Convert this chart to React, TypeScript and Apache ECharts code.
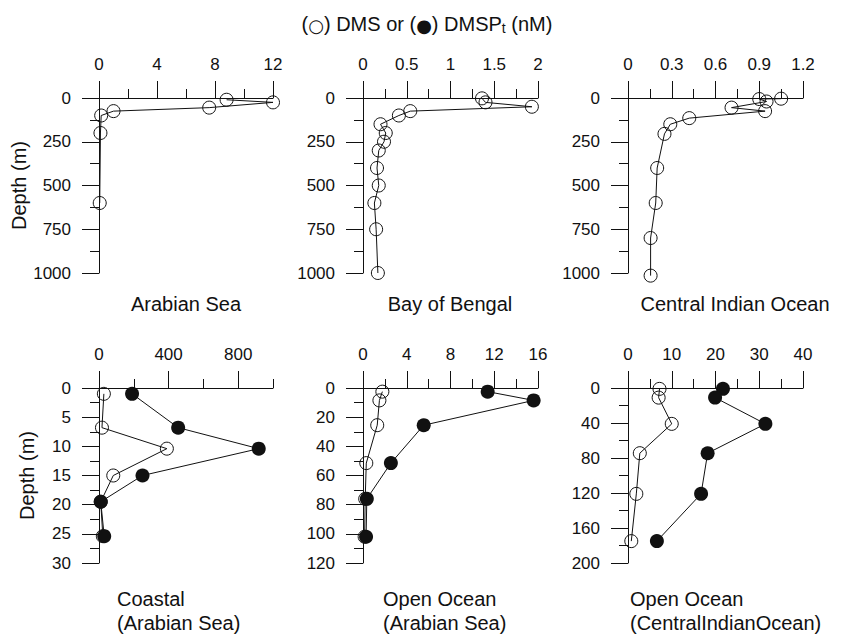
import React, { useEffect, useRef } from 'react';
import * as echarts from 'echarts';

const FONT = '"Liberation Sans", Arial, Helvetica, sans-serif';
const INK = '#111';

// Panel titles
const panelTitlesTop = ['Arabian Sea', 'Bay of Bengal', 'Central Indian Ocean'];
const panelTitlesBottom = [
  ['Coastal', '(Arabian Sea)'],
  ['Open Ocean', '(Arabian Sea)'],
  ['Open Ocean', '(CentralIndianOcean)'],
];

// Axis scales per panel
const xMax = [12, 2, 1.2, 1000, 16, 40];
const xInterval = [4, 0.5, 0.3, 400, 4, 10];
const yMax = [1000, 1000, 1000, 30, 120, 200];
const yInterval = [250, 250, 250, 5, 20, 40];
const coastalMajorTicks = [0, 400, 800];
const coastalMinorTicks = [200, 600, 1000];

// Arabian Sea (DMS)
const arabianSeaDepth = [10, 25, 55, 75, 100, 200, 600];
const arabianSeaDMS = [8.8, 12.0, 7.6, 1.0, 0.15, 0.1, 0.05];

// Bay of Bengal (DMS)
const bengalDepth = [2, 25, 50, 75, 100, 150, 200, 250, 300, 400, 500, 600, 750, 1000];
const bengalDMS = [1.36, 1.4, 1.93, 0.54, 0.41, 0.2, 0.26, 0.24, 0.18, 0.16, 0.18, 0.13, 0.15, 0.17];

// Central Indian Ocean (DMS)
const centralDepth = [4, 6, 20, 55, 75, 115, 150, 205, 400, 600, 800, 1015];
const centralDMS = [1.05, 0.9, 0.95, 0.71, 0.94, 0.42, 0.29, 0.25, 0.2, 0.19, 0.155, 0.155];

// Coastal (Arabian Sea)
const coastalDepth = [1, 6.8, 10.4, 15, 19.5, 25.4];
const coastalDMS = [28, 17, 390, 82, 10, 22];
const coastalDMSP = [190, 455, 918, 250, 10, 30];

// Open Ocean (Arabian Sea)
const openArabianDepth = [2.5, 8.5, 25.5, 51.5, 76, 102];
const openArabianDMS = [1.77, 1.5, 1.3, 0.3, 0.2, 0.15];
const openArabianDMSP = [11.4, 15.6, 5.55, 2.55, 0.35, 0.28];

// Open Ocean (Central Indian Ocean)
const openCentralDepth = [1, 11, 41, 74.5, 121, 175];
const openCentralDMS = [7.2, 7.0, 10, 2.7, 1.9, 0.75];
const openCentralDMSP = [21.7, 19.9, 31.4, 18.2, 16.7, 6.6];

const gridRects = [
  { left: 99, top: 98, width: 174, height: 175 },
  { left: 363, top: 98, width: 175, height: 175 },
  { left: 628, top: 98, width: 175, height: 175 },
  { left: 99, top: 388, width: 174, height: 175 },
  { left: 363, top: 388, width: 175, height: 175 },
  { left: 628, top: 388, width: 175, height: 175 },
];

const zip = (xs: number[], ys: number[]) => xs.map((x, i) => [x, ys[i]]);
const plain = (v: number) => String(Math.round(v * 1000) / 1000);

function buildOption() {
  const grid = gridRects.map((r) => ({ ...r, containLabel: false, outerBoundsMode: 'none' }));

  const tickStyle = { color: INK, width: 1 };
  const labelStyle = { fontSize: 17, color: INK, fontFamily: FONT, formatter: plain };

  const xAxis: any[] = xMax.map((max, i) => {
    const ax: any = {
      type: 'value',
      gridIndex: i,
      position: 'top',
      min: 0,
      max,
      interval: xInterval[i],
      axisLine: { show: true, onZero: false, lineStyle: tickStyle },
      axisTick: { show: true, length: 17, lineStyle: tickStyle },
      minorTick: { show: true, splitNumber: 2, length: 9, lineStyle: tickStyle },
      axisLabel: { ...labelStyle, margin: 25 },
      splitLine: { show: false },
      minorSplitLine: { show: false },
    };
    if (i === 3) {
      ax.axisTick = { show: true, length: 17, lineStyle: tickStyle, customValues: coastalMajorTicks };
      ax.axisLabel = { ...labelStyle, margin: 25, customValues: coastalMajorTicks };
      ax.minorTick = { show: false };
    }
    return ax;
  });
  // extra axis carrying the short ticks of the coastal panel
  xAxis.push({
    type: 'value',
    gridIndex: 3,
    position: 'top',
    min: 0,
    max: 1000,
    interval: 200,
    axisLine: { show: false },
    axisTick: { show: true, length: 9, lineStyle: tickStyle, customValues: coastalMinorTicks },
    axisLabel: { show: false },
    splitLine: { show: false },
  });

  const yAxis = yMax.map((max, i) => ({
    type: 'value',
    gridIndex: i,
    position: 'left',
    inverse: true,
    min: 0,
    max,
    interval: yInterval[i],
    name: i === 0 || i === 3 ? 'Depth (m)' : '',
    nameLocation: 'middle',
    nameRotate: 90,
    nameGap: 62,
    nameTextStyle: { fontSize: 20, color: INK, fontFamily: FONT },
    axisLine: { show: true, onZero: false, lineStyle: tickStyle },
    axisTick: { show: true, length: 17, lineStyle: tickStyle },
    minorTick: { show: true, splitNumber: 2, length: 9, lineStyle: tickStyle },
    axisLabel: { ...labelStyle, margin: 28 },
    splitLine: { show: false },
    minorSplitLine: { show: false },
  }));

  const openSeries = (idx: number, xs: number[], ys: number[]) => ({
    type: 'line',
    xAxisIndex: idx,
    yAxisIndex: idx,
    data: zip(xs, ys),
    symbol: 'circle',
    symbolSize: 13,
    clip: false,
    lineStyle: { color: INK, width: 1 },
    itemStyle: { color: 'rgba(255,255,255,0)', borderColor: INK, borderWidth: 1 },
    emphasis: { disabled: true },
    z: 3,
  });
  const filledSeries = (idx: number, xs: number[], ys: number[]) => ({
    type: 'line',
    xAxisIndex: idx,
    yAxisIndex: idx,
    data: zip(xs, ys),
    symbol: 'circle',
    symbolSize: 14,
    clip: false,
    lineStyle: { color: INK, width: 1 },
    itemStyle: { color: INK, borderColor: INK, borderWidth: 0 },
    emphasis: { disabled: true },
    z: 4,
  });

  const series = [
    openSeries(0, arabianSeaDMS, arabianSeaDepth),
    openSeries(1, bengalDMS, bengalDepth),
    openSeries(2, centralDMS, centralDepth),
    openSeries(3, coastalDMS, coastalDepth),
    filledSeries(3, coastalDMSP, coastalDepth),
    openSeries(4, openArabianDMS, openArabianDepth),
    filledSeries(4, openArabianDMSP, openArabianDepth),
    openSeries(5, openCentralDMS, openCentralDepth),
    filledSeries(5, openCentralDMSP, openCentralDepth),
  ];

  const textEl = (text: string, x: number, y: number, align: string, size = 20) => ({
    type: 'text',
    x,
    y,
    style: {
      text,
      fill: INK,
      font: `${size}px ${FONT}`,
      align,
      verticalAlign: 'middle',
    },
  });

  const topCenters = [186, 450, 735];
  const bottomLefts = [117, 383, 630];
  const graphic: any[] = [
    {
      type: 'text',
      x: 427,
      y: 22,
      style: {
        text: '{a|(}{c|○}{a|) DMS or (}{c|●}{a|) DMSP}{s|t}{a| (nM)}',
        align: 'center',
        verticalAlign: 'middle',
        rich: {
          a: { fontSize: 20, fontFamily: FONT, fill: INK, lineHeight: 24, verticalAlign: 'bottom' },
          c: { fontSize: 18, fontFamily: '"DejaVu Sans", sans-serif', fill: INK, lineHeight: 24, verticalAlign: 'bottom' },
          s: { fontSize: 14, fontFamily: FONT, fill: INK, lineHeight: 24, verticalAlign: 'bottom', padding: [0, 0, -1, 0] },
        },
      },
    },
  ];
  panelTitlesTop.forEach((t, i) => graphic.push(textEl(t, topCenters[i], 304, 'center')));
  panelTitlesBottom.forEach((lines, i) => {
    graphic.push(textEl(lines[0], bottomLefts[i], 599, 'left'));
    graphic.push(textEl(lines[1], bottomLefts[i], 623, 'left'));
  });

  return {
    animation: false,
    backgroundColor: '#fff',
    textStyle: { fontFamily: FONT },
    grid,
    xAxis,
    yAxis,
    series,
    graphic,
  };
}

export default function App() {
  const ref = useRef<HTMLDivElement>(null);
  useEffect(() => {
    if (!ref.current) return;
    const chart = echarts.init(ref.current, null, { renderer: 'svg' });
    chart.setOption(buildOption() as any);
    return () => chart.dispose();
  }, []);
  return (
    <div
      ref={ref}
      style={{ position: 'fixed', left: 0, top: 0, width: 848, height: 635, background: '#fff' }}
    />
  );
}
